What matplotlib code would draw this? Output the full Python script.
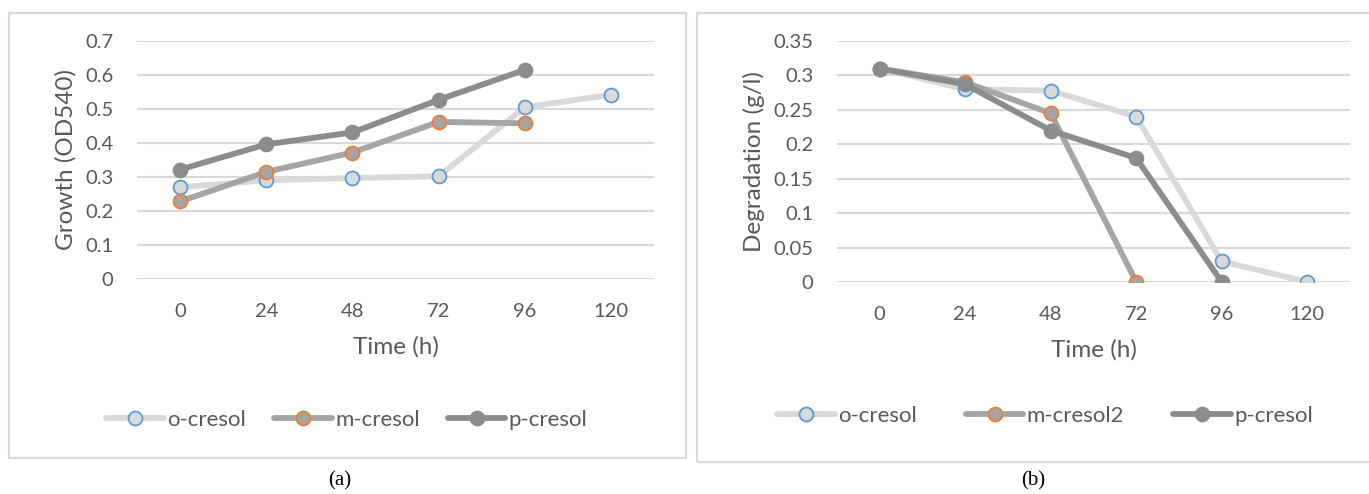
import matplotlib
matplotlib.use("Agg")
import matplotlib.pyplot as plt
from matplotlib.patches import Rectangle

W, H = 1369, 494

times = ["0", "24", "48", "72", "96", "120"]

# (a) growth, OD540
growth_o = [0.270, 0.290, 0.297, 0.302, 0.505, 0.542]
growth_m = [0.228, 0.315, 0.372, 0.462, 0.458]
growth_p = [0.322, 0.396, 0.431, 0.527, 0.615]

# (b) degradation, g/l
deg_o = [0.310, 0.280, 0.278, 0.240, 0.030, 0.000]
deg_m = [0.310, 0.290, 0.245, 0.000]
deg_p = [0.310, 0.287, 0.220, 0.180, 0.000]

TXT = "#595959"
GRID = "#D9D9D9"
styles = [
    dict(color="#D9D9D9", mfc="#D9D9D9", mec="#5B9BD5"),
    dict(color="#A5A5A5", mfc="#A5A5A5", mec="#ED7D31"),
    dict(color="#8C8C8C", mfc="#8C8C8C", mec="#8C8C8C"),
]

plt.rcParams["font.family"] = ["Lato", "DejaVu Sans"]

fig = plt.figure(figsize=(W / 100, H / 100), dpi=100)


def px_axes(x0, x1, ytop, ybot):
    return fig.add_axes([x0 / W, 1 - ybot / H, (x1 - x0) / W, (ybot - ytop) / H])


def draw_panel(ax, series, names, ymax, ystep, ylabel):
    for vals, name, st in zip(series, names, styles):
        ax.plot(range(len(vals)), vals, "-o", lw=4.2, ms=10, mew=1.3,
                label=name, solid_capstyle="round", **st)
    ax.set_xlim(-0.5, len(times) - 0.5)
    ax.set_ylim(0, ymax)
    ax.set_xticks(range(len(times)))
    ax.set_xticklabels(times)
    yt = [i * ystep for i in range(int(round(ymax / ystep)) + 1)]
    ax.set_yticks(yt)
    ax.set_yticklabels([f"{v:.2f}".rstrip("0").rstrip(".") for v in yt])
    ax.grid(axis="y", color=GRID, lw=1.5)
    ax.set_axisbelow(True)
    for s in ax.spines.values():
        s.set_visible(False)
    ax.tick_params(length=0, labelsize=14.5, colors=TXT)
    ax.tick_params(axis="y", pad=17)
    ax.tick_params(axis="x", pad=17)
    ax.set_xlabel("Time (h)", fontsize=17.5, color=TXT, labelpad=12)
    ax.set_ylabel(ylabel, fontsize=17.5, color=TXT, labelpad=6)


# panel borders
fig.patches.append(Rectangle((9 / W, 1 - 458 / H), 677 / W, 445 / H,
                             transform=fig.transFigure, fill=False,
                             ec="#D9D9D9", lw=1.5))
fig.patches.append(Rectangle((697 / W, 1 - 462 / H), 680 / W, 449 / H,
                             transform=fig.transFigure, fill=False,
                             ec="#D9D9D9", lw=1.5))

ax1 = px_axes(137, 654, 41, 279)
draw_panel(ax1, [growth_o, growth_m, growth_p], ["o-cresol", "m-cresol", "p-cresol"],
           0.7, 0.1, "Growth (OD540)")
ax1.legend(loc="center", bbox_to_anchor=(347 / W, 1 - 420 / H),
           bbox_transform=fig.transFigure, ncol=3, frameon=False,
           fontsize=16, labelcolor=TXT, handlelength=2.6, handletextpad=0.15,
           columnspacing=1.25)

ax2 = px_axes(837, 1350, 41, 282)
draw_panel(ax2, [deg_o, deg_m, deg_p], ["o-cresol", "m-cresol2", "p-cresol"],
           0.35, 0.05, "Degradation (g/l)")
ax2.legend(loc="center", bbox_to_anchor=(1045 / W, 1 - 416 / H),
           bbox_transform=fig.transFigure, ncol=3, frameon=False,
           fontsize=16, labelcolor=TXT, handlelength=2.6, handletextpad=0.15,
           columnspacing=2.2)

fig.text(340 / W, 1 - 481 / H, "(a)", ha="center", va="center",
         fontsize=15, family="Liberation Serif", color="black")
fig.text(1033 / W, 1 - 481 / H, "(b)", ha="center", va="center",
         fontsize=15, family="Liberation Serif", color="black")

fig.savefig("out.png", dpi=100)
